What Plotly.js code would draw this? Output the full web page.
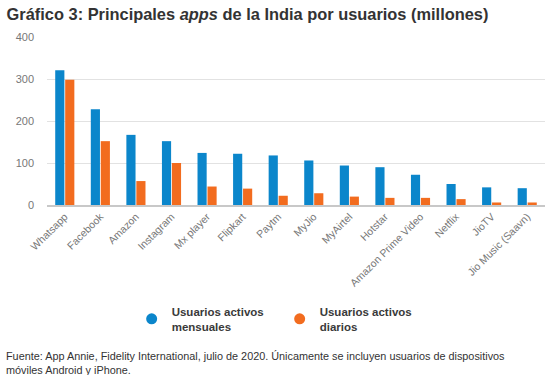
<!DOCTYPE html>
<html>
<head>
<meta charset="utf-8">
<script src="https://cdn.plot.ly/plotly-3.0.1.min.js"></script>
<style>html,body{margin:0;padding:0;background:#fff;}#chart{width:549px;height:375px;}</style>
</head>
<body>
<div id="chart"></div>
<script>
const categories = ["Whatsapp","Facebook","Amazon","Instagram","Mx player","Flipkart","Paytm","MyJio","MyAirtel","Hotstar","Amazon Prime Video","Netflix","JioTV","Jio Music (Saavn)"];
const monthlyUsers = [321, 228, 167, 152, 124, 122, 118, 106, 94, 90, 72, 50, 42, 40];
const dailyUsers = [298, 152, 57, 100, 44, 39, 22, 28, 20, 17, 17, 14, 6, 6];
const yTicks = [0, 100, 200, 300, 400];
const seriesNames = ["Usuarios activos<br>mensuales", "Usuarios activos<br>diarios"];

const blue = "#0b86cb", orange = "#f26c1f";
const data = [
  {type:"bar", x:categories, y:monthlyUsers, marker:{color:blue}, showlegend:false, hoverinfo:"y"},
  {type:"bar", x:categories, y:dailyUsers, marker:{color:orange}, showlegend:false, hoverinfo:"y"},
  {type:"scatter", mode:"markers", x:[null], y:[null], name:seriesNames[0], marker:{color:blue, size:11, symbol:"circle"}},
  {type:"scatter", mode:"markers", x:[null], y:[null], name:seriesNames[1], marker:{color:orange, size:11, symbol:"circle"}}
];
const layout = {
  width:549, height:375,
  margin:{l:47, r:4, t:37, b:170},
  paper_bgcolor:"#fff", plot_bgcolor:"#fff",
  font:{family:"Liberation Sans, Arial, sans-serif", color:"#666"},
  title:{text:"Gráfico 3: Principales <i>apps</i> de la India por usuarios (millones)", x:0.012, xanchor:"left", xref:"container", y:0.963, yanchor:"middle", yref:"container", font:{size:16.4, color:"#333", weight:"bold"}},
  barmode:"group", bargap:0.44, bargroupgap:0.08,
  xaxis:{type:"category", tickangle:-45, tickfont:{size:10.5, color:"#777"}, showgrid:false, showline:true, linecolor:"#c8c8c8", linewidth:1.5, ticks:"", automargin:false},
  yaxis:{range:[0,400], tickvals:yTicks, tickfont:{size:11, color:"#777"}, gridcolor:"#e2e2e2", gridwidth:1, zeroline:false, showline:false, ticks:"", ticklabelstandoff:12, automargin:false},
  showlegend:true,
  legend:{orientation:"h", x:0.17, xanchor:"left", y:-0.55, yanchor:"top", font:{size:11.5, color:"#3a3a3a", weight:600}, entrywidth:103, entrywidthmode:"pixels", itemwidth:30, bgcolor:"rgba(0,0,0,0)"},
  annotations:[{xref:"paper", yref:"paper", x:-0.086, xanchor:"left", y:-0.853, yanchor:"top", align:"left", showarrow:false, text:"Fuente: App Annie, Fidelity International, julio de 2020. Únicamente se incluyen usuarios de dispositivos<br>móviles Android y iPhone.", font:{size:10.85, color:"#333"}}]
};
Plotly.newPlot("chart", data, layout, {displayModeBar:false, staticPlot:true});
</script>
</body>
</html>
